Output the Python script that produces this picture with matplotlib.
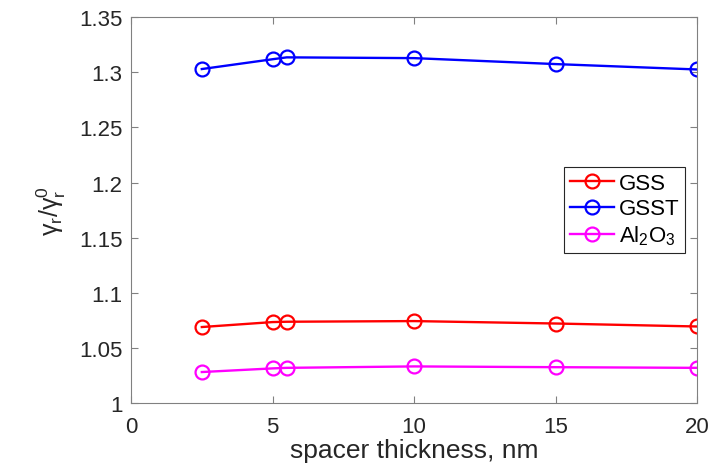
import matplotlib
matplotlib.use('Agg')
import matplotlib.pyplot as plt

plt.rcParams['font.family'] = ['Liberation Sans', 'DejaVu Sans']
plt.rcParams['mathtext.fontset'] = 'custom'
plt.rcParams['mathtext.rm'] = 'Liberation Sans'

thickness = [2.5, 5, 5.5, 10, 15, 20]
gss = [1.069, 1.0735, 1.0738, 1.0744, 1.0722, 1.0695]
gsst = [1.3029, 1.3118, 1.3135, 1.3128, 1.3074, 1.3025]
al2o3 = [1.0282, 1.0315, 1.0320, 1.0333, 1.0326, 1.0320]

fig = plt.figure(figsize=(7.24, 4.64), dpi=100)
ax = fig.add_axes([0.181, 0.129, 0.782, 0.832])

style = dict(mfc='none', ms=10, mew=1.6, lw=1.7)
ax.plot(thickness, gss, 'o-', color='#ff0000', label='GSS', **style)
ax.plot(thickness, gsst, 'o-', color='#0000ff', label='GSST', **style)
ax.plot(thickness, al2o3, 'o-', color='#ff00ff', label=r'Al$_\mathrm{2}$O$_\mathrm{3}$', **style)

ax.set_xlim(0, 20)
ax.set_ylim(1, 1.35)
ax.set_xticks([0, 5, 10, 15, 20])
ax.set_yticks([1, 1.05, 1.1, 1.15, 1.2, 1.25, 1.3, 1.35])
ax.set_yticklabels(['1', '1.05', '1.1', '1.15', '1.2', '1.25', '1.3', '1.35'])
ax.tick_params(direction='in', top=True, right=True, labelsize=16, colors='#262626',
               color='#808080', length=5)
ax.tick_params(axis='y', pad=6)
ax.tick_params(axis='x', pad=9)
for s in ax.spines.values():
    s.set_color('#808080')
    s.set_linewidth(0.8)

ax.set_xlabel('spacer thickness, nm', fontsize=19, color='#262626', labelpad=1)
ax.set_ylabel(r'$\mathrm{γ}_\mathrm{r}/\mathrm{γ}_\mathrm{r}^\mathrm{0}$', fontsize=18,
              color='#262626', labelpad=8)

leg = ax.legend(loc='center right', bbox_to_anchor=(0.978, 0.5), fontsize=16,
                fancybox=False, framealpha=1, edgecolor='#262626',
                handlelength=2.0, handletextpad=0.2, borderpad=0.25, labelspacing=0.2,
                borderaxespad=0)
leg.get_frame().set_linewidth(0.8)

fig.savefig('out.png', dpi=100)
